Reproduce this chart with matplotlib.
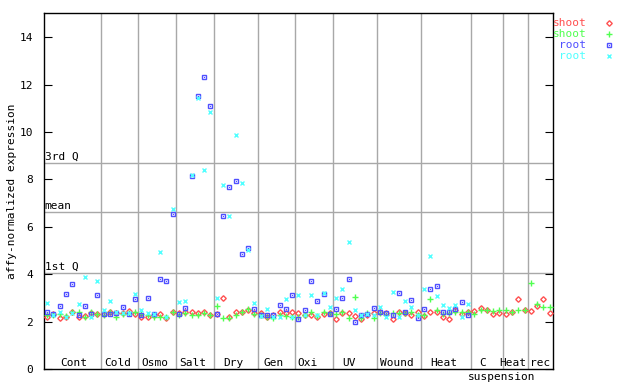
import numpy as np
import matplotlib
matplotlib.use("Agg")
import matplotlib.pyplot as plt

nan = np.nan

# group labels and boundaries (sample index units)
groups = ["Cont", "Cold", "Osmo", "Salt", "Dry", "Gen", "Oxi", "UV", "Wound", "Heat", "C", "Heat", "rec"]
bounds = [0, 9, 15, 21, 27, 34, 40, 46, 53, 60, 68, 73, 77, 81]

shoot_a = [2.22, 2.32, 2.15, 2.22, 2.40, 2.22, 2.25, 2.36, 2.32,
           2.32, 2.43, 2.36, 2.36, 2.46, 2.32,
           2.22, 2.22, 2.29, 2.32, 2.15, 2.40,
           2.36, 2.40, 2.40, 2.36, 2.40, 2.29,
           2.32, 2.99, 2.19, 2.43, 2.40, 2.50, 2.36,
           2.39, 2.19, 2.29, 2.40, 2.39, 2.40,
           2.36, 2.29, 2.29, 2.19, 2.32, 2.36,
           2.11, 2.36, 2.36, 2.25, 2.11, 2.29, 2.36,
           2.40, 2.36, 2.11, 2.43, 2.36, 2.29, 2.43,
           2.25, 2.40, 2.40, 2.19, 2.11, 2.50, 2.32, 2.40,
           2.46, 2.57, 2.50, 2.32, 2.36,
           2.32, 2.40, 2.95, 2.50,
           2.46, 2.66, 2.95, 2.37]

shoot_b = [2.29, 2.30, 2.32, 2.25, 2.40, 2.40, 2.22, 2.40, 2.32,
           2.29, 2.43, 2.22, 2.32, 2.36, 2.43,
           2.32, 2.27, 2.22, 2.22, 2.19, 2.40,
           2.29, 2.36, 2.29, 2.29, 2.36, 2.29,
           2.67, 2.15, 2.15, 2.29, 2.40, 2.53, 2.33,
           2.29, 2.22, 2.15, 2.29, 2.25, 2.19,
           2.22, 2.29, 2.40, 2.25, 2.40, 2.36,
           2.33, 2.43, 2.15, 3.05, 2.15, 2.36, 2.15,
           2.36, 2.29, 2.36, 2.36, 2.36, 2.40, 2.29,
           2.29, 2.95, 2.50, 2.32, 2.36, 2.40, 2.43, 2.40,
           2.32, 2.50, 2.50, 2.46, 2.50,
           2.50, 2.40, 2.50, 2.50,
           3.63, 2.76, 2.61, 2.61]

root_a = [2.40, 2.32, 2.67, 3.16, 3.60, 2.29, 2.67, 2.32, 3.12,
          2.32, 2.32, 2.36, 2.63, 2.32, 2.95,
          2.29, 2.99, 2.32, 3.80, 3.74, 6.54,
          2.32, 2.57, 8.15, 11.5, 12.32, 11.08,
          2.32, 6.48, 7.68, 7.92, 4.85, 5.10, 2.53,
          2.29, 2.29, 2.29, 2.71, 2.53, 3.12,
          2.11, 2.50, 3.74, 2.88, 3.16, 2.33,
          2.53, 2.99, 3.80, 1.98, 2.29, 2.33, 2.57,
          2.40, 2.36, 2.29, 3.21, 2.40, 2.92, 2.15,
          2.53, 3.37, 3.51, 2.43, 2.43, 2.53, 2.83, 2.29] + [nan] * 13

root_b = [2.78, 2.30, 2.43, 2.22, 2.36, 2.76, 3.91, 2.19, 3.74,
          2.50, 2.87, 2.43, 2.36, 2.39, 3.16,
          2.50, 2.36, 2.33, 4.93, 2.20, 6.75,
          2.85, 2.88, 8.20, 11.43, 8.41, 10.83,
          2.99, 7.76, 6.48, 9.88, 7.84, 5.03, 2.78,
          2.25, 2.53, 2.22, 2.22, 2.95, 2.22,
          3.12, 2.30, 3.12, 2.29, 3.23, 2.64,
          2.99, 3.37, 5.36, 2.50, 2.29, 2.33, 2.30,
          2.64, 2.19, 3.25, 2.22, 2.88, 2.64, 2.30,
          3.37, 4.77, 3.09, 2.71, 2.57, 2.69, 2.19, 2.76] + [nan] * 13

q1, mean, q3 = 4.07, 6.62, 8.69

red, green, blue, cyan = "#ff5050", "#50ff50", "#5050ff", "#50ffff"
grid = "#a8a8a8"
plt.rcParams['font.family'] = ['DejaVu Sans Mono']
plt.rcParams['font.size'] = 8

fig = plt.figure(figsize=(6.4, 3.84), dpi=100)
ax = fig.add_axes([0.06875, 0.0383, 0.795, 0.927])

x = np.arange(len(shoot_a)) + 0.5

for b in bounds[1:-1]:
    ax.axvline(b, color=grid, lw=1, zorder=1)
for v, name in [(q1, "1st Q"), (mean, "mean"), (q3, "3rd Q")]:
    ax.axhline(v, color=grid, lw=1, zorder=1)
    ax.text(0.1, v + 0.05, name, ha="left", va="bottom", fontsize=8)

# marker styles: (marker, size, open)
styles = {"D": 2.8, "+": 4, "s": 3.2, "x": 3.4}

ax.plot(x, shoot_a, ls="none", marker="D", ms=styles["D"], mfc="none", mec=red, mew=1, zorder=3)
ax.plot(x, shoot_b, ls="none", marker="+", ms=styles["+"], mec=green, mew=1, zorder=3)
ax.plot(x, root_a, ls="none", marker="s", ms=styles["s"], mfc="none", mec=blue, mew=1, zorder=3)
ax.plot(x, root_a, ls="none", marker="s", ms=0.8, mfc=blue, mec=blue, mew=0, zorder=3)
ax.plot(x, root_b, ls="none", marker="x", ms=styles["x"], mec=cyan, mew=1, zorder=3)

label_x = [4.78, 11.78, 17.7, 23.7, 30.1, 36.6, 42.0, 48.5, 56.2, 63.7, 69.9, 74.7, 79.0]
for lx, g in zip(label_x, groups):
    ax.text(lx, 0.05, g, ha="center", va="bottom", fontsize=8)
ax.text(72.9, -0.12, "suspension", ha="center", va="top", fontsize=8, clip_on=False)

ax.set_xlim(bounds[0], bounds[-1])
ax.set_ylim(0, 15)
ax.set_xticks([])
ax.set_yticks(range(0, 15, 2))
ax.tick_params(axis="y", direction="in", length=6, right=True, pad=8)
for s in ax.spines.values():
    s.set_linewidth(1)
fig.text(11.7 / 640, 1 - 191.7 / 384, "affy-normalized expression", rotation=90,
         ha="center", va="center", fontsize=8)

# legend outside the plot on the right
entries = [("shoot", red, "D"), ("shoot", green, "+"), ("root", blue, "s"), ("root", cyan, "x")]
for k, (lab, col, mk) in enumerate(entries):
    yy = 0.94 - k * 0.0287
    fig.text(0.916, yy, lab, color=col, ha="right", va="center", fontsize=8)
    kw = dict(mfc="none") if mk in ("D", "s") else {}
    fig.add_artist(plt.Line2D([0.952], [yy], marker=mk, color=col, ms=styles[mk],
                              mew=1, ls="none", transform=fig.transFigure, **kw))
    if mk == "s":
        fig.add_artist(plt.Line2D([0.952], [yy], marker="s", color=col, ms=0.8, mew=0,
                                  ls="none", transform=fig.transFigure))

fig.savefig("out.png", dpi=100)
